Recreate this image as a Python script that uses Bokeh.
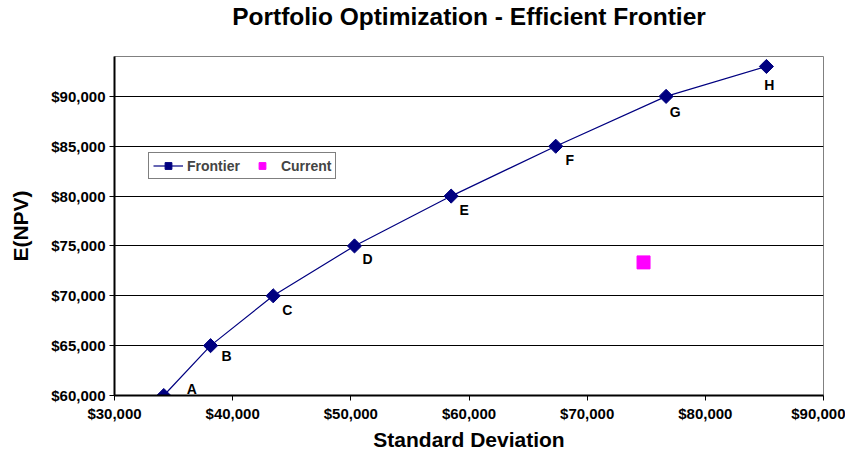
import math
from bokeh.plotting import figure
from bokeh.models import (ColumnDataSource, NumeralTickFormatter, Range1d,
                          SingleIntervalTicker, Legend, LegendItem, Label)
from bokeh.embed import file_html
from bokeh.resources import INLINE

# ---- data ----
frontier_labels = ["A", "B", "C", "D", "E", "F", "G", "H"]
frontier_sd = [34170, 38130, 43430, 50310, 58490, 67340, 76680, 85170]
frontier_npv = [60000, 65000, 70000, 75000, 80000, 85000, 90000, 93000]
current_sd = [74770]
current_npv = [73350]

# label placement (styling, screen pixels; dy positive = downward)
label_dx = [28, 16, 14, 13, 13, 14, 9, 3]
label_dy = [-7, 10, 14, 13, 14, 14, 16, 19]

FONT = "Liberation Sans"
NAVY = "#000080"

p = figure(width=845, height=454, output_backend="svg", toolbar_location=None,
           x_range=Range1d(30000, 90000), y_range=Range1d(60000, 94000),
           min_border_left=114, min_border_right=22, min_border_top=56,
           min_border_bottom=59)

p.title.text = "Portfolio Optimization - Efficient Frontier\n "
p.title.align = "center"
p.title.text_font = FONT
p.title.text_font_size = "24.5px"
p.title.text_font_style = "bold"
p.title.text_color = "black"
p.title.text_line_height = 1.0
p.title.standoff = 0

p.outline_line_color = "#808080"
p.outline_line_width = 1
p.background_fill_color = "white"

p.xgrid.visible = False
p.ygrid.grid_line_color = "black"
p.ygrid.grid_line_width = 1
p.ygrid.ticker = SingleIntervalTicker(interval=5000)

p.xaxis.ticker = SingleIntervalTicker(interval=10000)
p.yaxis.ticker = SingleIntervalTicker(interval=5000)
p.xaxis.formatter = NumeralTickFormatter(format="$0,0")
p.yaxis.formatter = NumeralTickFormatter(format="$0,0")

for ax in (p.xaxis, p.yaxis):
    ax.axis_line_color = "black"
    ax.axis_line_width = 2
    ax.major_tick_line_color = "black"
    ax.major_tick_line_width = 1
    ax.major_tick_out = 5
    ax.major_tick_in = 0
    ax.minor_tick_line_color = None
    ax.major_label_text_font = FONT
    ax.major_label_text_font_size = "15px"
    ax.major_label_text_font_style = "bold"
    ax.major_label_text_color = "black"
    ax.axis_label_text_font = FONT
    ax.axis_label_text_font_size = "21px"
    ax.axis_label_text_font_style = "bold"
    ax.axis_label_text_color = "black"

p.xaxis.axis_label = "Standard Deviation"
p.yaxis.axis_label = "E(NPV)"
p.xaxis.major_label_standoff = 4
p.yaxis.major_label_standoff = 4
p.xaxis.axis_label_standoff = 3
p.yaxis.axis_label_standoff = 16

src = ColumnDataSource(dict(x=frontier_sd, y=frontier_npv))

ln = p.line("x", "y", source=src, line_color=NAVY, line_width=1.2)
mk = p.scatter("x", "y", source=src, marker="square", size=10, angle=math.pi / 4,
               fill_color=NAVY, line_color=NAVY)
cur = p.scatter(current_sd, current_npv, marker="square", size=13,
                fill_color="#FF00FF", line_color="#FF00FF")

for lab, xv, yv, dx, dy in zip(frontier_labels, frontier_sd, frontier_npv,
                               label_dx, label_dy):
    p.add_layout(Label(x=xv, y=yv, text=lab, x_offset=dx, y_offset=-dy,
                       text_font=FONT, text_font_size="14px",
                       text_font_style="bold", text_align="center",
                       text_baseline="middle", text_color="black",
                       level="overlay"))

legend = Legend(items=[LegendItem(label="Frontier", renderers=[ln, mk]),
                       LegendItem(label="Current", renderers=[cur])],
                location=(34, 216), orientation="horizontal")
legend.label_text_font = FONT
legend.label_text_font_size = "14px"
legend.label_text_font_style = "bold"
legend.border_line_color = "black"
legend.border_line_width = 1
legend.background_fill_color = "white"
legend.background_fill_alpha = 1
legend.padding = 4
legend.margin = 0
legend.spacing = 7
legend.glyph_width = 30
legend.glyph_height = 17
legend.label_standoff = 4
p.add_layout(legend, "center")

open("out.html", "w").write(file_html(p, INLINE))
